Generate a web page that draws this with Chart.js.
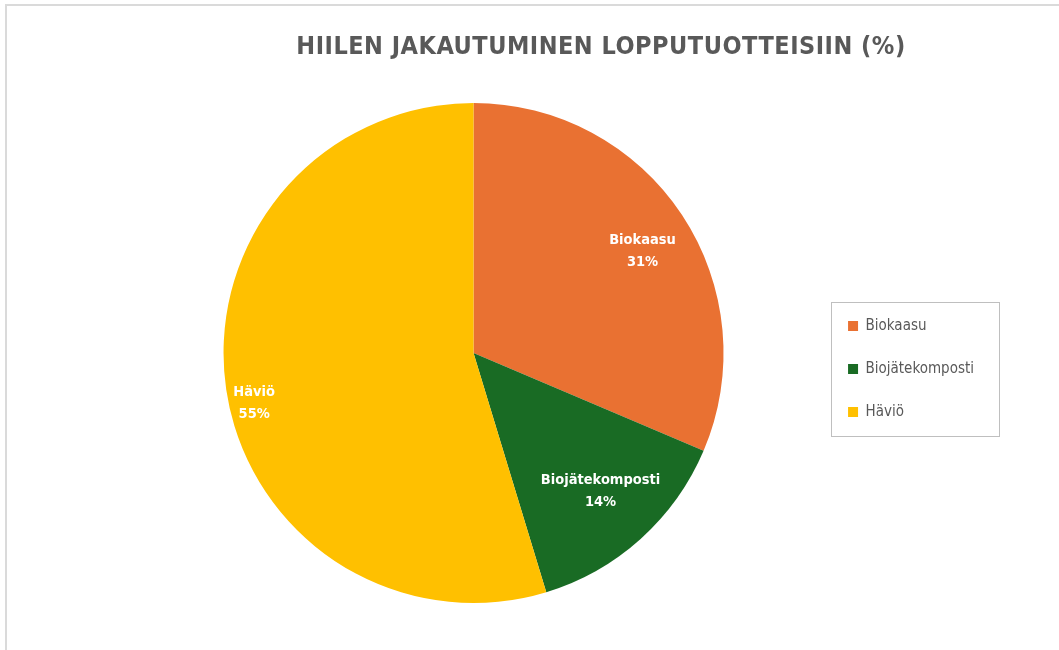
<!DOCTYPE html>
<html>
<head>
<meta charset="utf-8">
<script src="https://cdn.jsdelivr.net/npm/chart.js@4.4.1/dist/chart.umd.min.js"></script>
<style>
  html, body { margin: 0; padding: 0; background: #ffffff; }
  #wrap { position: relative; width: 1059px; height: 650px; }
  #frame { position: absolute; left: 5px; top: 4px; right: 0; bottom: 0;
           border-top: 2px solid #dadada; border-left: 2px solid #dadada; pointer-events: none; }
  canvas { position: absolute; left: 0; top: 0; }
</style>
</head>
<body>
<div id="wrap">
  <canvas id="c" width="1059" height="650"></canvas>
  <div id="frame"></div>
</div>
<script>
const titleText = 'HIILEN JAKAUTUMINEN LOPPUTUOTTEISIIN (%)';
const categories = ['Biokaasu', 'Biojätekomposti', 'Häviö'];
const shares = [31.4, 13.9, 54.7];
const sliceColors = ['#E97132', '#196B24', '#FFC000'];

const FONT = '"Liberation Sans Narrow", "Arial Narrow", "DejaVu Sans Condensed", sans-serif';

// label placement: polar offset from slice middle (degrees) and radius fraction
const labelPlacement = [
  { da: 2.3, rf: 0.79 },
  { da: -0.7, rf: 0.75 },
  { da: -4.4, rf: 0.90 }
];

const titlePlugin = {
  id: 'customTitle',
  afterDraw(chart) {
    const ctx = chart.ctx;
    ctx.save();
    ctx.font = 'bold 25px ' + FONT;
    ctx.fillStyle = '#595959';
    ctx.textAlign = 'center';
    ctx.textBaseline = 'middle';
    if ('letterSpacing' in ctx) ctx.letterSpacing = '0.5px';
    ctx.fillText(titleText, 601, 47);
    ctx.restore();
  }
};

const sliceLabels = {
  id: 'sliceLabels',
  afterDatasetsDraw(chart) {
    const ctx = chart.ctx;
    const meta = chart.getDatasetMeta(0);
    const data = chart.data.datasets[0].data;
    const total = data.reduce((a, b) => a + b, 0);
    ctx.save();
    ctx.font = 'bold 14.5px ' + FONT;
    ctx.fillStyle = '#ffffff';
    ctx.textAlign = 'center';
    ctx.textBaseline = 'middle';
    meta.data.forEach((arc, i) => {
      const p = arc.getProps(['x', 'y', 'startAngle', 'endAngle', 'outerRadius'], true);
      const place = labelPlacement[i];
      const mid = (p.startAngle + p.endAngle) / 2 + place.da * Math.PI / 180;
      const r = p.outerRadius * place.rf;
      const x = p.x + r * Math.cos(mid);
      const y = p.y + r * Math.sin(mid);
      const pct = Math.round(data[i] / total * 100) + '%';
      ctx.fillText(chart.data.labels[i], x, y - 11);
      ctx.fillText(pct, x, y + 11);
    });
    ctx.restore();
  }
};

const legendFrame = {
  id: 'legendFrame',
  afterDraw(chart) {
    const lg = chart.legend;
    if (!lg || !lg.legendHitBoxes || !lg.legendHitBoxes.length) return;
    const hb = lg.legendHitBoxes;
    const left = Math.min(...hb.map(h => h.left));
    const top = Math.min(...hb.map(h => h.top));
    const bottom = Math.max(...hb.map(h => h.top + h.height));
    const ctx = chart.ctx;
    ctx.save();
    ctx.strokeStyle = '#bfbfbf';
    ctx.lineWidth = 1;
    ctx.strokeRect(Math.round(left - 17) + 0.5, Math.round(top - 17) + 0.5, 168, Math.round(bottom - top + 33));
    ctx.restore();
  }
};

new Chart(document.getElementById('c'), {
  type: 'pie',
  data: {
    labels: categories,
    datasets: [{
      data: shares,
      backgroundColor: sliceColors,
      borderWidth: 0,
      hoverOffset: 0,
      offset: 0
    }]
  },
  options: {
    responsive: false,
    animation: false,
    events: [],
    layout: { padding: { top: 103, bottom: 47, left: 127, right: 75 } },
    plugins: {
      title: { display: false },
      tooltip: { enabled: false },
      legend: {
        position: 'right',
        align: 'center',
        title: { display: true, text: '', font: { size: 10, lineHeight: 1 }, padding: { top: 22, bottom: 0 } },
        labels: {
          boxWidth: 10,
          boxHeight: 10,
          padding: 28,
          color: '#595959',
          font: { family: FONT, size: 15 }
        }
      }
    }
  },
  plugins: [titlePlugin, sliceLabels, legendFrame]
});
</script>
</body>
</html>
